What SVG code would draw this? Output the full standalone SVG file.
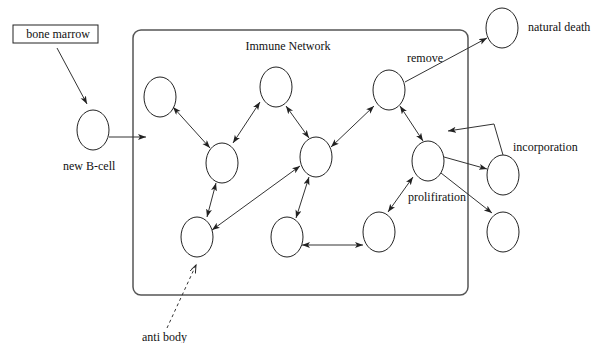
<svg xmlns="http://www.w3.org/2000/svg" width="591" height="343" viewBox="0 0 591 343">
<style>
.node{fill:none;stroke:#222;stroke-width:1}
.e{fill:none;stroke:#333;stroke-width:1}
.t{font-family:"Liberation Serif",serif;font-size:12px;fill:#111}
</style>
<defs>
<marker id="ah" markerUnits="userSpaceOnUse" markerWidth="10" markerHeight="8" refX="8" refY="3" orient="auto-start-reverse"><path d="M0,0 L8,3 L0,6 L2,3 Z" fill="#222"/></marker>
<marker id="oh" markerUnits="userSpaceOnUse" markerWidth="10" markerHeight="8" refX="8" refY="3" orient="auto"><path d="M0,0 L8,3 L0,6" fill="none" stroke="#222" stroke-width="1"/></marker>
</defs>
<rect width="591" height="343" fill="#fff"/>
<g id="bone-marrow"><rect x="13" y="25" width="85" height="18" fill="none" stroke="#222" stroke-width="1"/><text class="t" x="58" y="38" text-anchor="middle">bone marrow</text></g>
<g id="network"><rect x="133" y="30" width="335" height="265" rx="8" fill="none" stroke="#555" stroke-width="1.5"/><text class="t" x="288" y="50" text-anchor="middle">Immune Network</text></g>
<g id="new-b-cell"><ellipse class="node" cx="93" cy="130" rx="16" ry="20"/><text class="t" x="63" y="170">new B-cell</text></g>
<g id="n1"><ellipse class="node" cx="160" cy="97" rx="16" ry="20"/></g>
<g id="n2"><ellipse class="node" cx="276" cy="87" rx="16" ry="20"/></g>
<g id="n3"><ellipse class="node" cx="222" cy="163" rx="16" ry="20"/></g>
<g id="n4"><ellipse class="node" cx="316" cy="157" rx="16" ry="20"/></g>
<g id="n5"><ellipse class="node" cx="197" cy="237" rx="16" ry="20"/></g>
<g id="n6"><ellipse class="node" cx="287" cy="237" rx="16" ry="20"/></g>
<g id="n7"><ellipse class="node" cx="379" cy="232" rx="16" ry="20"/></g>
<g id="n8"><ellipse class="node" cx="389" cy="90" rx="16" ry="20"/></g>
<g id="n9"><ellipse class="node" cx="428" cy="161" rx="16" ry="20"/></g>
<g id="natural-death"><ellipse class="node" cx="502" cy="28" rx="16" ry="20"/><text class="t" x="528" y="31">natural death</text></g>
<g id="incorporation"><ellipse class="node" cx="503" cy="175" rx="16" ry="20"/><text class="t" x="513" y="151">incorporation</text></g>
<g id="n-last"><ellipse class="node" cx="503" cy="232" rx="16" ry="20"/></g>
<g id="labels">
<text class="t" x="407" y="62">remove</text>
<text class="t" x="408" y="201">prolifiration</text>
<text class="t" x="142" y="341">anti body</text>
</g>
<g id="connectors">
<line class="e" x1="57" y1="48" x2="87" y2="104" marker-end="url(#ah)"/>
<line class="e" x1="109" y1="137" x2="146" y2="137" marker-end="url(#ah)"/>
<line class="e" x1="173" y1="107" x2="210" y2="148" marker-start="url(#ah)" marker-end="url(#ah)"/>
<line class="e" x1="260" y1="102" x2="233" y2="143" marker-start="url(#ah)" marker-end="url(#ah)"/>
<line class="e" x1="286" y1="106" x2="309" y2="138" marker-start="url(#ah)" marker-end="url(#ah)"/>
<line class="e" x1="331" y1="147" x2="374" y2="106" marker-start="url(#ah)" marker-end="url(#ah)"/>
<line class="e" x1="216" y1="183" x2="207" y2="217" marker-start="url(#ah)" marker-end="url(#ah)"/>
<line class="e" x1="300" y1="166" x2="212" y2="230" marker-start="url(#ah)" marker-end="url(#ah)"/>
<line class="e" x1="309" y1="177" x2="296" y2="218" marker-start="url(#ah)" marker-end="url(#ah)"/>
<line class="e" x1="302" y1="245" x2="363" y2="245" stroke-width="1.6" marker-start="url(#ah)" marker-end="url(#ah)"/>
<line class="e" x1="388" y1="212" x2="413" y2="177" marker-start="url(#ah)" marker-end="url(#ah)"/>
<line class="e" x1="400" y1="106" x2="423" y2="141" marker-start="url(#ah)" marker-end="url(#ah)"/>
<line class="e" x1="405" y1="82" x2="487" y2="38" marker-end="url(#ah)"/>
<line class="e" x1="444" y1="157" x2="487" y2="169" marker-end="url(#ah)"/>
<line class="e" x1="441" y1="173" x2="492" y2="213" marker-end="url(#ah)"/>
<polyline class="e" points="503,155 494,124 448,131" marker-end="url(#ah)"/>
<line class="e" x1="167" y1="328" x2="196" y2="265" stroke-dasharray="3,3" marker-end="url(#oh)"/>
</g>
</svg>
